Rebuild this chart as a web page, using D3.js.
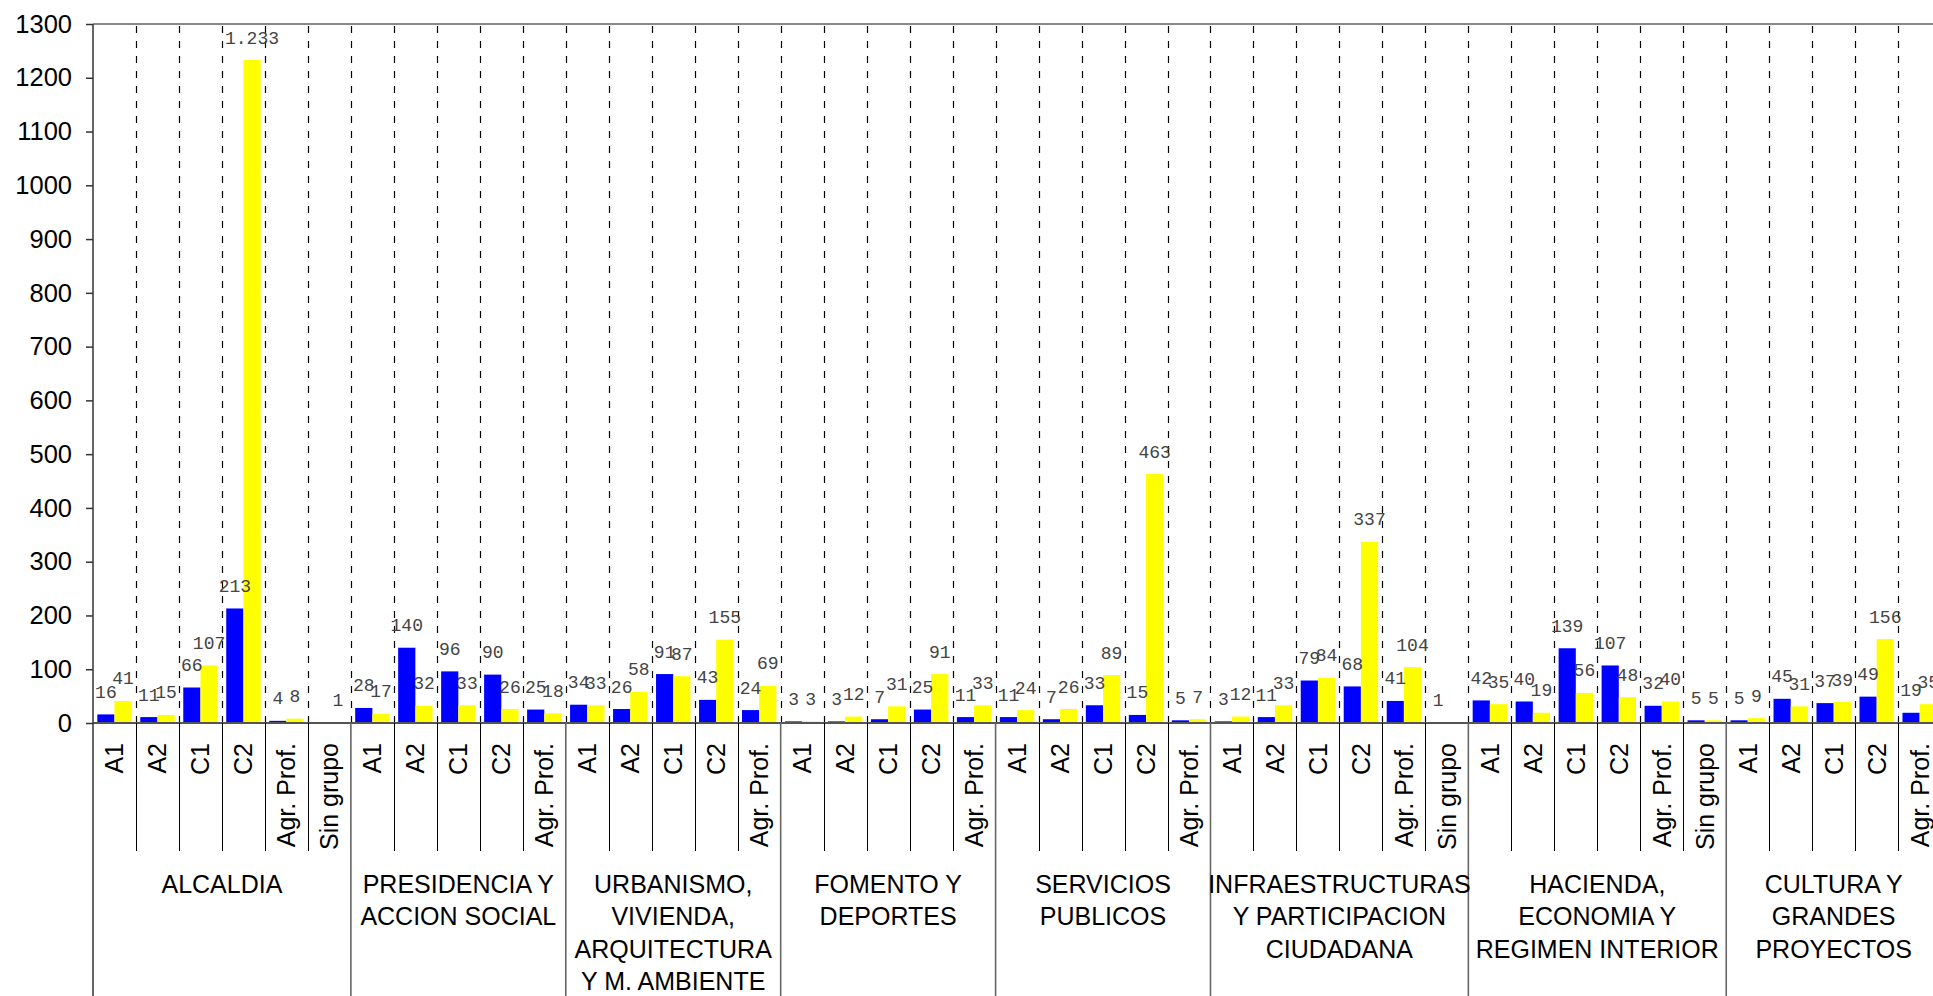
<!DOCTYPE html>
<html>
<head>
<meta charset="utf-8">
<script src="https://cdn.jsdelivr.net/npm/d3@7"></script>
<style>
  html, body { margin: 0; padding: 0; background: #fff; overflow: hidden; }
  svg { display: block; }
</style>
</head>
<body>
<svg id="chart" width="1933" height="996"></svg>
<script>
// ---------- DATA ----------
const groupLabels = [
  ["ALCALDIA"],
  ["PRESIDENCIA Y", "ACCION SOCIAL"],
  ["URBANISMO,", "VIVIENDA,", "ARQUITECTURA", "Y M. AMBIENTE"],
  ["FOMENTO Y", "DEPORTES"],
  ["SERVICIOS", "PUBLICOS"],
  ["INFRAESTRUCTURAS", "Y PARTICIPACION", "CIUDADANA"],
  ["HACIENDA,", "ECONOMIA Y", "REGIMEN INTERIOR"],
  ["CULTURA Y", "GRANDES", "PROYECTOS"]
];
const groupCategories = [
  ["A1", "A2", "C1", "C2", "Agr. Prof.", "Sin grupo"],
  ["A1", "A2", "C1", "C2", "Agr. Prof."],
  ["A1", "A2", "C1", "C2", "Agr. Prof."],
  ["A1", "A2", "C1", "C2", "Agr. Prof."],
  ["A1", "A2", "C1", "C2", "Agr. Prof."],
  ["A1", "A2", "C1", "C2", "Agr. Prof.", "Sin grupo"],
  ["A1", "A2", "C1", "C2", "Agr. Prof.", "Sin grupo"],
  ["A1", "A2", "C1", "C2", "Agr. Prof."]
];
const blueValues = [
  [16, 11, 66, 213, 4, null],
  [28, 140, 96, 90, 25],
  [34, 26, 91, 43, 24],
  [3, 3, 7, 25, 11],
  [11, 7, 33, 15, 5],
  [3, 11, 79, 68, 41, 1],
  [42, 40, 139, 107, 32, 5],
  [5, 45, 37, 49, 19]
];
const yellowValues = [
  [41, 15, 107, 1233, 8, 1],
  [17, 32, 33, 26, 18],
  [33, 58, 87, 155, 69],
  [3, 12, 31, 91, 33],
  [24, 26, 89, 463, 7],
  [12, 33, 84, 337, 104, null],
  [35, 19, 56, 48, 40, 5],
  [9, 31, 39, 156, 35]
];
const yTicks = [0, 100, 200, 300, 400, 500, 600, 700, 800, 900, 1000, 1100, 1200, 1300];
const seriesKeys = ["blue", "yellow"];
const seriesColors = ["#0000FF", "#FFFF00"];

// ---------- BUILD ROWS ----------
const rows = [];
groupCategories.forEach((cats, gi) => {
  cats.forEach((c, ci) => {
    rows.push({ id: gi + "_" + ci, group: gi, cat: c,
      blue: blueValues[gi][ci], yellow: yellowValues[gi][ci] });
  });
});

// ---------- LAYOUT ----------
const svg = d3.select("#chart");
const W = 1933, H = 996;
const plotLeft = 93, plotTop = 24, axisY = 723;
const slotW = 42.98;
const snap = v => Math.round(v) + 0.5;

const x = d3.scaleBand().domain(rows.map(r => r.id))
  .range([plotLeft, plotLeft + rows.length * slotW]).paddingInner(0).paddingOuter(0);
const xs = d3.scaleBand().domain(seriesKeys).range([4.3, slotW - 4.3]).padding(0);
const y = d3.scaleLinear().domain([0, 1300]).range([axisY, plotTop]);

const es = d3.formatLocale({ decimal: ",", thousands: ".", grouping: [3], currency: ["", "€"] });
const fmt = es.format(",d");

// top border
svg.append("line").attr("x1", plotLeft).attr("x2", W).attr("y1", plotTop).attr("y2", plotTop)
  .attr("stroke", "#888").attr("stroke-width", 2);

// dashed vertical grid lines at slot boundaries
const bounds = rows.map(r => x(r.id) + slotW).filter(v => v < W + 1);
svg.append("g").selectAll("line").data(bounds).join("line")
  .attr("x1", d => snap(d)).attr("x2", d => snap(d))
  .attr("y1", plotTop + 2).attr("y2", axisY)
  .attr("stroke", "#000").attr("stroke-width", 1.2)
  .attr("stroke-dasharray", "7,8");

// bars
const barG = svg.append("g");
seriesKeys.forEach((k, si) => {
  const data = rows.filter(r => r[k] != null);
  barG.append("g").selectAll("rect").data(data).join("rect")
    .attr("x", d => x(d.id) + xs(k))
    .attr("width", xs.bandwidth())
    .attr("y", d => y(d[k]))
    .attr("height", d => axisY - y(d[k]))
    .attr("fill", seriesColors[si]);
});

// data labels
const lblG = svg.append("g")
  .attr("font-family", "'Liberation Mono', 'DejaVu Sans Mono', monospace")
  .attr("font-size", 18).attr("fill", "#444");
seriesKeys.forEach(k => {
  const data = rows.filter(r => r[k] != null);
  lblG.append("g").selectAll("text").data(data).join("text")
    .attr("x", d => x(d.id) + xs(k) + xs.bandwidth() / 2)
    .attr("y", d => y(d[k]) - 16.5)
    .attr("text-anchor", "middle")
    .text(d => fmt(d[k]));
});

// y axis
const yAxis = d3.axisLeft(y).tickValues(yTicks).tickSize(7).tickPadding(14).tickFormat(d3.format("d"));
const yg = svg.append("g").attr("transform", `translate(${plotLeft},0)`).call(yAxis);
yg.select(".domain").remove();
yg.selectAll(".tick line").attr("stroke", "#333").attr("stroke-width", 1.5);
yg.selectAll(".tick text").attr("font-family", "'Liberation Sans', Arial, sans-serif")
  .attr("font-size", 25.5).attr("fill", "#000");

// x axis line
svg.append("line").attr("x1", plotLeft).attr("x2", W).attr("y1", axisY).attr("y2", axisY)
  .attr("stroke", "#555").attr("stroke-width", 2);

// left axis line (full height)
svg.append("line").attr("x1", plotLeft).attr("x2", plotLeft).attr("y1", plotTop).attr("y2", H)
  .attr("stroke", "#333").attr("stroke-width", 1.5);

// category separators (first row)
const groupEnds = new Set();
let acc = 0;
groupCategories.forEach(c => { acc += c.length; groupEnds.add(acc - 1); });
const catSep = rows.map((r, i) => ({ x: x(r.id) + slotW, ge: groupEnds.has(i) }));
svg.append("g").selectAll("line").data(catSep.filter(d => !d.ge)).join("line")
  .attr("x1", d => snap(d.x)).attr("x2", d => snap(d.x)).attr("y1", axisY).attr("y2", 851)
  .attr("stroke", "#000").attr("stroke-width", 1);
svg.append("g").selectAll("line").data(catSep.filter(d => d.ge)).join("line")
  .attr("x1", d => d.x).attr("x2", d => d.x).attr("y1", axisY).attr("y2", H)
  .attr("stroke", "#666").attr("stroke-width", 1.6);

// category labels (rotated)
svg.append("g").selectAll("text").data(rows).join("text")
  .attr("transform", d => `translate(${x(d.id) + slotW / 2},743) rotate(-90)`)
  .attr("dy", "0.36em")
  .attr("text-anchor", "end")
  .attr("font-family", "'Liberation Sans', Arial, sans-serif")
  .attr("font-size", 25).attr("fill", "#000")
  .text(d => d.cat);

// group labels
let start = 0;
const groupInfo = groupCategories.map((c, gi) => {
  const x0 = x(rows[start].id);
  const x1 = x(rows[start + c.length - 1].id) + slotW;
  start += c.length;
  return { gi, cx: (x0 + x1) / 2, lines: groupLabels[gi] };
});
const gl = svg.append("g").attr("font-family", "'Liberation Sans', Arial, sans-serif")
  .attr("font-size", 25).attr("fill", "#000").attr("text-anchor", "middle");
groupInfo.forEach(g => {
  g.lines.forEach((ln, li) => {
    gl.append("text").attr("x", g.cx).attr("y", 893 + li * 32.3).text(ln);
  });
});
</script>
</body>
</html>
